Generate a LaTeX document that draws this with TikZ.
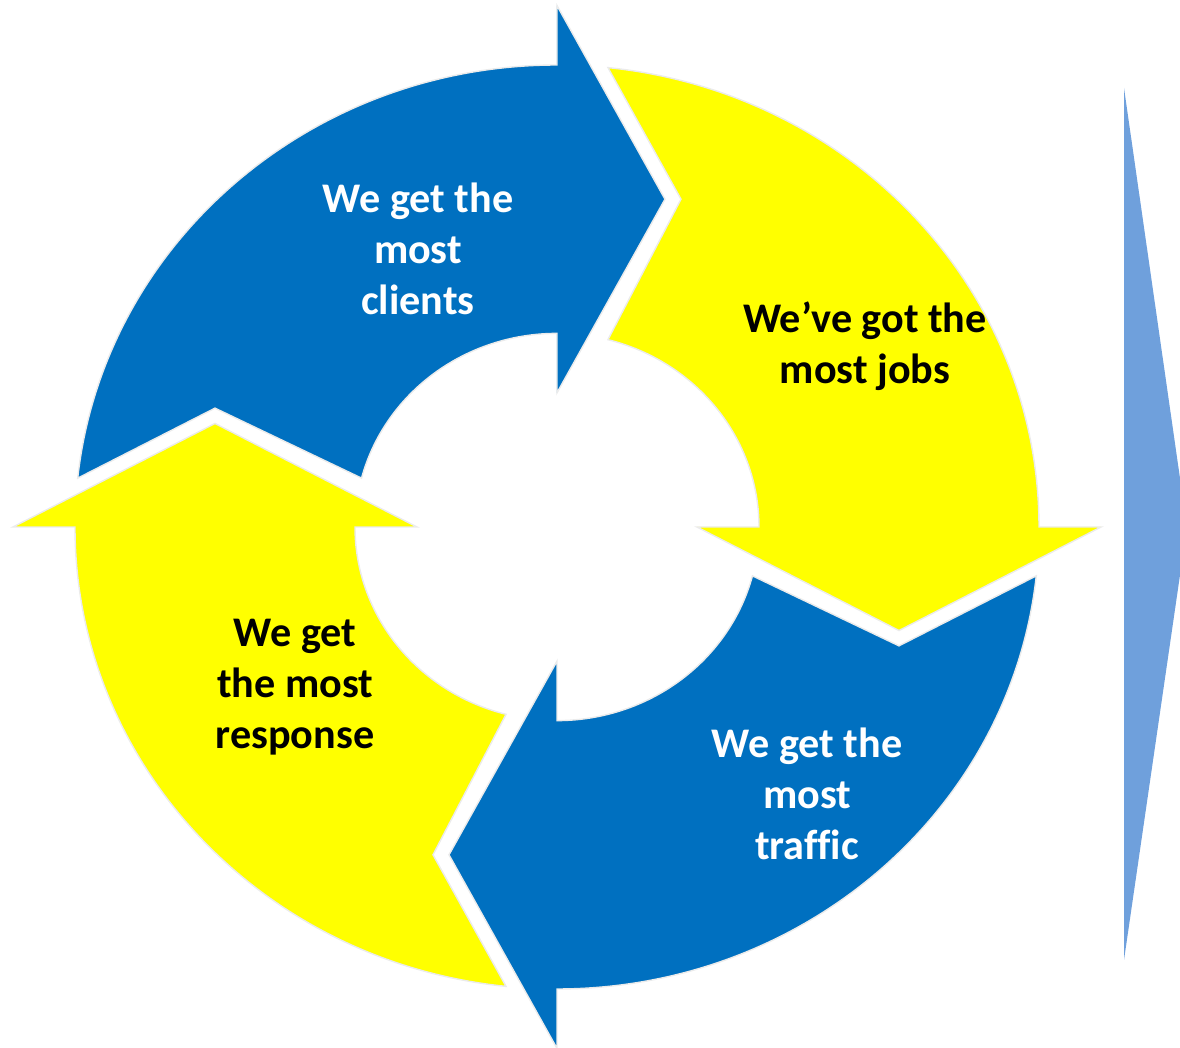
\documentclass[tikz,border=0pt]{standalone}
\usepackage{fontspec}
\setmainfont{Carlito}[Ligatures=NoCommon]
\definecolor{Blue}{HTML}{0070C0}
\definecolor{Yellow}{HTML}{FFFF00}
\definecolor{Wedge}{HTML}{6FA0DC}

\begin{document}
\begin{tikzpicture}[
    seg/.style={draw=black!8,line width=0.4pt},
    txt/.style={align=center,font=\bfseries\fontsize{12}{14.5}\selectfont}
  ]
  \clip (-5.57,-5.21) rectangle (6.23,5.27);
  % four circular arrows
  \begin{scope}[yscale=0.9585]
    \foreach \ang/\col in {0/Blue,-90/Yellow,-180/Blue,-270/Yellow}
      \filldraw[seg,fill=\col,rotate=\ang]
        (173.93:4.82) arc[start angle=173.93,end angle=90,radius=4.82]
        -- (0,5.44) -- (1.08,3.42) -- (0,1.40) -- (0,2.02)
        arc[start angle=90,end angle=165.38,radius=2.02]
        -- (-3.42,1.24) -- cycle;
  \end{scope}
  \fill[Wedge] (5.67,4.39) -- (6.30,0) -- (5.67,-4.33) -- cycle;
  \node[txt,text=white] (clients) at (-1.39,2.78) {We get the\\most\\clients};
  \node[txt] (jobs) at (3.08,1.805) {We’ve got the\\most jobs};
  \node[txt,text=white] (traffic) at (2.50,-2.67) {We get the\\most\\traffic};
  \node[txt] (response) at (-2.62,-1.60) {We get\\the most\\response};
\end{tikzpicture}
\end{document}
